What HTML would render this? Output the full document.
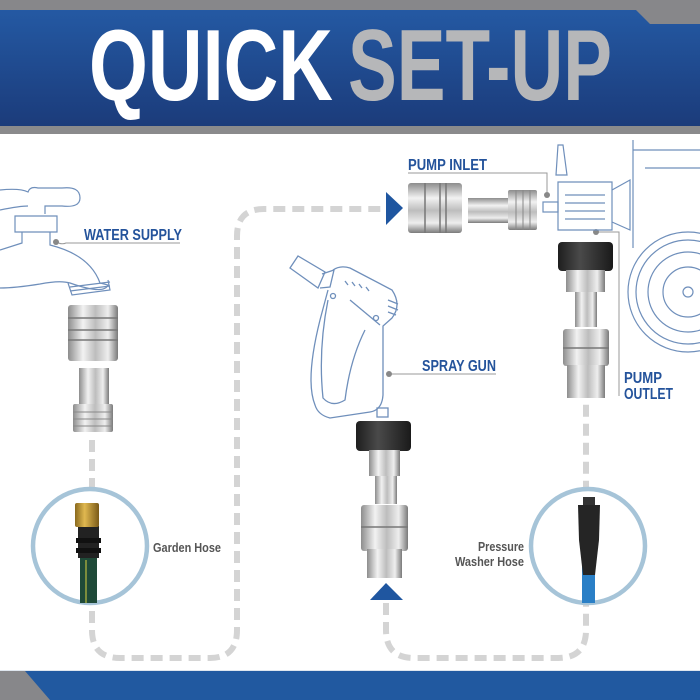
<!DOCTYPE html>
<html><head><meta charset="utf-8"><style>
html,body{margin:0;padding:0;background:#fff;}
svg{display:block;}
text{font-family:"Liberation Sans",sans-serif;}
</style></head><body>
<svg width="700" height="700" viewBox="0 0 700 700" xmlns="http://www.w3.org/2000/svg">
<defs>
<linearGradient id="hb" x1="0" y1="0" x2="0" y2="1"><stop offset="0" stop-color="#2459a3"/><stop offset="1" stop-color="#1b3b7a"/></linearGradient>
<linearGradient id="sv" x1="0" y1="0" x2="1" y2="0"><stop offset="0" stop-color="#8d8d8d"/><stop offset="0.3" stop-color="#f2f2f2"/><stop offset="0.55" stop-color="#bdbdbd"/><stop offset="0.8" stop-color="#eeeeee"/><stop offset="1" stop-color="#7a7a7a"/></linearGradient>
<linearGradient id="svv" x1="0" y1="0" x2="0" y2="1"><stop offset="0" stop-color="#8d8d8d"/><stop offset="0.3" stop-color="#f2f2f2"/><stop offset="0.55" stop-color="#bdbdbd"/><stop offset="0.8" stop-color="#eeeeee"/><stop offset="1" stop-color="#7a7a7a"/></linearGradient>
<linearGradient id="bk" x1="0" y1="0" x2="1" y2="0"><stop offset="0" stop-color="#1e1e1e"/><stop offset="0.4" stop-color="#4a4a4a"/><stop offset="1" stop-color="#1a1a1a"/></linearGradient>
<linearGradient id="br" x1="0" y1="0" x2="1" y2="0"><stop offset="0" stop-color="#8a6a1e"/><stop offset="0.4" stop-color="#e0b850"/><stop offset="1" stop-color="#7a5a18"/></linearGradient>
</defs>
<rect x="0" y="0" width="700" height="12" fill="#87878a"/>
<rect x="0" y="10" width="700" height="117" fill="url(#hb)"/>
<polygon points="636,10 700,10 700,24 650,24" fill="#87878a"/>
<rect x="0" y="126" width="700" height="8" fill="#8a8a8c"/>
<text x="89" y="100" font-size="101" font-weight="bold" fill="#fff" textLength="244" lengthAdjust="spacingAndGlyphs">QUICK</text>
<text x="348" y="100" font-size="101" font-weight="bold" fill="#b6b7b9" textLength="264" lengthAdjust="spacingAndGlyphs">SET-UP</text>
<rect x="0" y="670" width="700" height="2" fill="#dfe6ee"/>
<rect x="0" y="671" width="700" height="29" fill="#2159a0"/>
<polygon points="0,671 25,671 50,700 0,700" fill="#87878a"/>
<g fill="none" stroke="#d4d4d4" stroke-width="6" stroke-dasharray="12,7">
<path d="M92,440 V630 Q92,658 120,658 H210 Q237,658 237,630 V236 Q237,209 264,209 H385"/>
<path d="M386,603 V630 Q386,658 414,658 H558 Q586,658 586,630 V400"/>
</g>
<polygon points="386,192 386,225 403,208" fill="#1f56a0"/>
<polygon points="370,600 403,600 386,583" fill="#1f56a0"/>
<circle cx="90" cy="546" r="57" fill="#fff" stroke="#a6c4d8" stroke-width="4.5"/>
<circle cx="588" cy="546" r="57" fill="#fff" stroke="#a6c4d8" stroke-width="4.5"/>
<rect x="80" y="557" width="17" height="46" fill="#1f4a38"/>
<line x1="86" y1="560" x2="86" y2="603" stroke="#d8d040" stroke-width="1"/>
<rect x="78" y="526" width="21" height="32" fill="#222"/>
<rect x="76" y="538" width="25" height="5" fill="#111"/>
<rect x="76" y="548" width="25" height="5" fill="#111"/>
<rect x="75" y="503" width="24" height="24" rx="2" fill="url(#br)"/>
<rect x="582" y="560" width="13" height="43" fill="#2a7fc6"/>
<polygon points="578,505 600,505 599,540 595,575 583,575 579,540" fill="#252525"/>
<rect x="583" y="497" width="12" height="8" fill="#333"/>
<g font-weight="bold" fill="#555" font-size="13">
<text x="153" y="552" textLength="68" lengthAdjust="spacingAndGlyphs">Garden Hose</text>
<text x="478" y="551" textLength="46" lengthAdjust="spacingAndGlyphs">Pressure</text>
<text x="455" y="566" textLength="69" lengthAdjust="spacingAndGlyphs">Washer Hose</text>
</g>
<g font-weight="bold" fill="#24539b" font-size="16">
<text x="84" y="240" textLength="98" lengthAdjust="spacingAndGlyphs">WATER SUPPLY</text>
<text x="408" y="170" textLength="79" lengthAdjust="spacingAndGlyphs">PUMP INLET</text>
<text x="422" y="371" textLength="74" lengthAdjust="spacingAndGlyphs">SPRAY GUN</text>
<text x="624" y="383" textLength="38" lengthAdjust="spacingAndGlyphs">PUMP</text>
<text x="624" y="399" textLength="49" lengthAdjust="spacingAndGlyphs">OUTLET</text>
</g>
<g stroke="#9a9a9a" stroke-width="1" fill="none">
<path d="M56,242 Q62,245 66,243 H180"/>
<path d="M408,173 H547 V194"/>
<path d="M389,374 H496"/>
<path d="M596,232 H619 V396"/>
</g>
<g fill="#888"><circle cx="56" cy="242" r="3"/><circle cx="547" cy="195" r="3"/><circle cx="389" cy="374" r="3"/><circle cx="596" cy="232" r="3"/></g>
<g fill="none" stroke="#6f8fbb" stroke-width="1.2">
<path d="M0,190 Q20,188 28,192 Q30,186 38,188 H62 Q80,186 80,198 Q80,208 62,206 H45 V214"/>
<path d="M0,210 Q20,206 28,206"/>
<path d="M15,216 H57 V232 H15 Z"/>
<path d="M22,232 V243 Q0,250 0,250"/>
<path d="M50,232 V245 Q90,255 100,283 L108,285 Q104,295 70,283 Q60,280 40,284 Q15,288 0,288"/>
<path d="M68,283 L72,295 L110,290 L108,280"/>
<line x1="70" y1="287" x2="110" y2="282"/><line x1="70" y1="291" x2="110" y2="286"/>
</g>
<rect x="68" y="305" width="50" height="56" rx="3" fill="url(#sv)"/>
<g stroke="#777" stroke-width="1.5"><line x1="68" y1="318" x2="118" y2="318"/><line x1="68" y1="330" x2="118" y2="330"/><line x1="68" y1="340" x2="118" y2="340"/></g>
<rect x="79" y="368" width="30" height="38" fill="url(#sv)"/>
<rect x="73" y="404" width="40" height="28" rx="2" fill="url(#sv)"/>
<g stroke="#888" stroke-width="1"><line x1="73" y1="412" x2="113" y2="412"/><line x1="73" y1="419" x2="113" y2="419"/><line x1="73" y1="426" x2="113" y2="426"/></g>
<rect x="408" y="183" width="54" height="50" rx="3" fill="url(#svv)"/>
<g stroke="#777" stroke-width="1.5"><line x1="425" y1="183" x2="425" y2="233"/><line x1="440" y1="183" x2="440" y2="233"/><line x1="446" y1="183" x2="446" y2="233"/></g>
<rect x="468" y="198" width="42" height="25" fill="url(#svv)"/>
<rect x="508" y="190" width="29" height="40" rx="2" fill="url(#svv)"/>
<g stroke="#888" stroke-width="1"><line x1="516" y1="190" x2="516" y2="230"/><line x1="523" y1="190" x2="523" y2="230"/><line x1="530" y1="190" x2="530" y2="230"/></g>
<g fill="none" stroke="#6f8fbb" stroke-width="1.2">
<path d="M558,145 L563,145 L567,175 L556,175 Z"/>
<path d="M558,182 H612 V230 H558 Z"/>
<line x1="565" y1="195" x2="605" y2="195"/><line x1="565" y1="203" x2="605" y2="203"/><line x1="565" y1="211" x2="605" y2="211"/><line x1="565" y1="219" x2="605" y2="219"/>
<rect x="543" y="202" width="15" height="10"/>
<path d="M612,190 L630,180 V230 L612,222"/>
<path d="M633,140 V248 M633,150 H700 M645,168 H700"/>
<circle cx="688" cy="292" r="60"/><circle cx="688" cy="292" r="52"/>
<circle cx="688" cy="292" r="40"/><circle cx="688" cy="292" r="25"/>
<circle cx="688" cy="292" r="5"/>
</g>
<rect x="558" y="242" width="55" height="29" rx="4" fill="url(#bk)"/>
<rect x="566" y="270" width="39" height="22" fill="url(#sv)"/>
<rect x="575" y="292" width="22" height="35" fill="url(#sv)"/>
<rect x="563" y="329" width="46" height="37" rx="3" fill="url(#sv)"/>
<line x1="563" y1="348" x2="609" y2="348" stroke="#777" stroke-width="1.5"/>
<rect x="567" y="365" width="38" height="33" fill="url(#sv)"/>
<rect x="356" y="421" width="55" height="30" rx="4" fill="url(#bk)"/>
<rect x="369" y="450" width="31" height="26" fill="url(#sv)"/>
<rect x="375" y="476" width="22" height="28" fill="url(#sv)"/>
<rect x="361" y="505" width="47" height="46" rx="3" fill="url(#sv)"/>
<line x1="361" y1="527" x2="408" y2="527" stroke="#777" stroke-width="1.5"/>
<rect x="367" y="549" width="35" height="29" fill="url(#sv)"/>
<g fill="none" stroke="#6f8fbb" stroke-width="1.3">
<path d="M290,268 L298,256 L325,272 L318,288 Z"/>
<path d="M322,274 L334,270 L330,287 L320,288"/>
<path d="M333,270 Q340,265 350,268 L392,290 Q402,305 392,318 L383,326 V395 Q382,410 370,412 L330,418 Q318,415 315,405 Q305,380 320,320 L328,290"/>
<path d="M328,300 Q318,350 323,398 Q332,408 345,400 Q350,360 365,330"/>
<path d="M350,300 L380,325"/>
<circle cx="333" cy="296" r="2.5"/><circle cx="376" cy="318" r="2.5"/>
<path d="M345,281 l3,4 M352,282 l3,4 M359,284 l3,4 M366,287 l3,4"/>
<path d="M388,300 l10,4 M388,306 l10,4 M388,312 l8,3"/>
<rect x="377" y="408" width="11" height="9"/>
</g>
</svg>
</body></html>
